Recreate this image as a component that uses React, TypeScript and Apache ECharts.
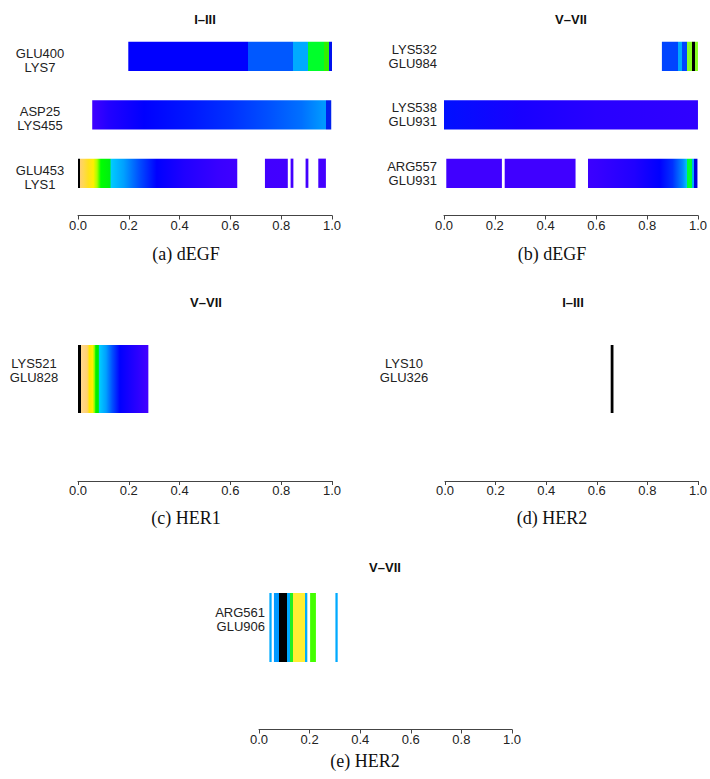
import React, { useEffect, useRef } from "react";
import * as echarts from "echarts";

// ---------- shared axis ticks ----------
const TICK_LABELS = ["0.0", "0.2", "0.4", "0.6", "0.8", "1.0"];

// ---------- (a) dEGF, I–III ----------
const titleA = "I–III";
const captionA = "(a) dEGF";
const labelsA = ["GLU400\nLYS7", "ASP25\nLYS455", "GLU453\nLYS1"];
const segmentsA = [
  [[0.198, 1.0]],
  [[0.056, 0.997]],
  [[0.0, 0.627], [0.736, 0.826], [0.837, 0.848], [0.896, 0.907], [0.946, 0.976]],
];
const colorsA = [
  [[0.198, "#0000FF"], [0.668, "#0000FF"], [0.668, "#0058FF"], [0.848, "#0058FF"], [0.848, "#00AAFF"], [0.907, "#00AAFF"], [0.907, "#00FF2A"], [0.969, "#00FF2A"], [0.969, "#33F000"], [0.99, "#33F000"], [0.99, "#0011EE"], [1.0, "#0011EE"]],
  [[0.056, "#4000FF"], [0.12, "#2200FF"], [0.26, "#0000FF"], [0.45, "#0018FF"], [0.6, "#0030FF"], [0.75, "#0050FF"], [0.88, "#0070FF"], [0.965, "#0099FF"], [0.975, "#0099FF"], [0.975, "#0022EE"], [0.997, "#0022EE"]],
  [[0.0, "#000000"], [0.008, "#000000"], [0.008, "#FFD070"], [0.022, "#FFD850"], [0.04, "#FFE020"], [0.06, "#FFF000"], [0.075, "#AAFF00"], [0.09, "#00FF00"], [0.126, "#00EE10"], [0.13, "#00CCFF"], [0.18, "#00A0FF"], [0.24, "#0050FF"], [0.31, "#0000FF"], [0.42, "#2000FF"], [0.55, "#3800FF"], [0.63, "#4000FF"], [1.0, "#4400FF"]],
];

// ---------- (b) dEGF, V–VII ----------
const titleB = "V–VII";
const captionB = "(b) dEGF";
const labelsB = ["LYS532\nGLU984", "LYS538\nGLU931", "ARG557\nGLU931"];
const segmentsB = [
  [[0.858, 1.0]],
  [[0.0, 1.0]],
  [[0.009, 0.228], [0.239, 0.518], [0.567, 0.998]],
];
const colorsB = [
  [[0.858, "#0044FF"], [0.921, "#0044FF"], [0.921, "#00AAFF"], [0.937, "#00AAFF"], [0.937, "#0044FF"], [0.958, "#0044FF"], [0.958, "#88FF22"], [0.976, "#88FF22"], [0.976, "#000000"], [0.988, "#000000"], [0.988, "#88FF22"], [1.0, "#88FF22"]],
  [[0.0, "#0010FF"], [0.3, "#1800FF"], [0.6, "#2800FF"], [1.0, "#3000FF"]],
  [[0.0, "#4000FF"], [0.52, "#4000FF"], [0.6, "#3800FF"], [0.75, "#2000FF"], [0.85, "#0000FF"], [0.9, "#0030FF"], [0.94, "#0088FF"], [0.955, "#00BBFF"], [0.958, "#00FF33"], [0.978, "#00FF33"], [0.978, "#00AAFF"], [0.985, "#00AAFF"], [0.985, "#0000DD"], [1.0, "#0000DD"]],
];

// ---------- (c) HER1, V–VII ----------
const titleC = "V–VII";
const captionC = "(c) HER1";
const labelsC = ["LYS521\nGLU828"];
const segmentsC = [[[0.0, 0.277]]];
const colorsC = [
  [[0.0, "#000000"], [0.01, "#000000"], [0.01, "#FFD890"], [0.036, "#FFD070"], [0.045, "#FFE600"], [0.058, "#FFF000"], [0.065, "#88FF00"], [0.07, "#00EE00"], [0.08, "#00EE00"], [0.085, "#00CCFF"], [0.11, "#00A0FF"], [0.135, "#0050FF"], [0.165, "#0000FF"], [0.22, "#2200FF"], [0.277, "#4400FF"]],
];

// ---------- (d) HER2, I–III ----------
const titleD = "I–III";
const captionD = "(d) HER2";
const labelsD = ["LYS10\nGLU326"];
const segmentsD = [[[0.655, 0.666]]];
const colorsD = [[[0.0, "#000000"], [1.0, "#000000"]]];

// ---------- (e) HER2, V–VII ----------
const titleE = "V–VII";
const captionE = "(e) HER2";
const labelsE = ["ARG561\nGLU906"];
const segmentsE = [[[0.041, 0.05], [0.059, 0.191], [0.202, 0.225], [0.302, 0.311]]];
const colorsE = [
  [[0.0, "#00AAFF"], [0.05, "#00AAFF"], [0.059, "#0099FF"], [0.08, "#0099FF"], [0.08, "#000000"], [0.112, "#000000"], [0.112, "#00AAFF"], [0.123, "#00AAFF"], [0.123, "#22EE22"], [0.133, "#22EE22"], [0.133, "#FFEE33"], [0.182, "#FFEE33"], [0.182, "#00AAFF"], [0.191, "#00AAFF"], [0.195, "#44FF00"], [0.225, "#44FF00"], [0.26, "#00AAFF"], [1.0, "#00AAFF"]],
];

const SANS = "'Liberation Sans', Arial, Helvetica, sans-serif";
const SERIF = "'Liberation Serif', 'Times New Roman', serif";

type Layout = {
  left: number; width: number; top: number; height: number; offset: number;
  labelAlign: "left" | "center" | "right"; labelMargin: number; labelShift: number;
  titleX: number; titleY: number; capX: number; capY: number;
};

const panels = [
  { title: titleA, caption: captionA, labels: labelsA, segments: segmentsA, colors: colorsA,
    layout: { left: 78, width: 254, top: 27, height: 175.5, offset: 13, labelAlign: "center", labelMargin: 38, labelShift: 4, titleX: 205, titleY: 19, capX: 186, capY: 254 } as Layout },
  { title: titleB, caption: captionB, labels: labelsB, segments: segmentsB, colors: colorsB,
    layout: { left: 444, width: 254, top: 27, height: 175.5, offset: 13, labelAlign: "right", labelMargin: 7, labelShift: 0, titleX: 571, titleY: 19, capX: 552, capY: 254 } as Layout },
  { title: titleC, caption: captionC, labels: labelsC, segments: segmentsC, colors: colorsC,
    layout: { left: 78, width: 254, top: 311, height: 136, offset: 34, labelAlign: "center", labelMargin: 44, labelShift: -9, titleX: 206, titleY: 302, capX: 186, capY: 518 } as Layout },
  { title: titleD, caption: captionD, labels: labelsD, segments: segmentsD, colors: colorsD,
    layout: { left: 445, width: 254, top: 311, height: 136, offset: 34, labelAlign: "center", labelMargin: 41, labelShift: -9, titleX: 573, titleY: 302, capX: 552, capY: 518 } as Layout },
  { title: titleE, caption: captionE, labels: labelsE, segments: segmentsE, colors: colorsE,
    layout: { left: 259, width: 253, top: 558.5, height: 138, offset: 33, labelAlign: "right", labelMargin: -6, labelShift: -8.5, titleX: 385, titleY: 567, capX: 365, capY: 761 } as Layout },
];

const BAR_FRAC = 0.5;

function makeRender(colorRows: any[]) {
  return (params: any, api: any) => {
    const s = api.value(0);
    const e = api.value(1);
    const r = api.value(2);
    const p0 = api.coord([s, r]);
    const p1 = api.coord([e, r]);
    const band = api.size([0, 1])[1];
    const h = band * BAR_FRAC;
    const g0 = api.coord([0, r])[0];
    const g1 = api.coord([1, r])[0];
    const stops = colorRows[r].map((st: any) => ({ offset: st[0], color: st[1] }));
    return {
      type: "rect",
      shape: { x: p0[0], y: p0[1] - h / 2, width: Math.max(p1[0] - p0[0], 1), height: h },
      style: { fill: new echarts.graphic.LinearGradient(g0, 0, g1, 0, stops, true) },
    };
  };
}

export default function App() {
  const ref = useRef<HTMLDivElement>(null);
  useEffect(() => {
    if (!ref.current) return;
    const chart = echarts.init(ref.current, undefined, { renderer: "svg" });
    const grid: any[] = [];
    const xAxis: any[] = [];
    const yAxis: any[] = [];
    const series: any[] = [];
    const graphic: any[] = [];
    panels.forEach((p, i) => {
      const L = p.layout;
      grid.push({ left: L.left, width: L.width, top: L.top, height: L.height, containLabel: false });
      xAxis.push({
        gridIndex: i, type: "value", min: 0, max: 1, interval: 0.2, position: "bottom", offset: L.offset,
        axisLine: { show: true, lineStyle: { color: "#444", width: 1 } },
        axisTick: { show: true, length: 4, lineStyle: { color: "#444", width: 1 } },
        splitLine: { show: false },
        axisLabel: {
          margin: 3, fontSize: 13, color: "#222", fontFamily: SANS,
          formatter: (v: number) => TICK_LABELS[Math.round(v / 0.2)] ?? "",
        },
      });
      // a spacer line above (shift down) or below (shift up) the two label lines
      const shift = L.labelShift;
      const spacer = Math.abs(shift) * 2;
      yAxis.push({
        gridIndex: i, type: "category", data: p.labels, inverse: true,
        axisLine: { show: false }, axisTick: { show: false }, splitLine: { show: false },
        axisLabel: {
          align: L.labelAlign, margin: L.labelMargin,
          formatter: (v: string) => {
            const body = v.split("\n").map((t) => `{a|${t}}`).join("\n");
            if (spacer < 0.5) return body;
            return shift > 0 ? `{s| }\n${body}` : `${body}\n{s| }`;
          },
          rich: {
            a: { fontSize: 13, lineHeight: 14, color: "#222", fontFamily: SANS, align: L.labelAlign },
            s: { fontSize: 1, lineHeight: spacer > 0 ? spacer : 1 },
          },
        },
      });
      const data: any[] = [];
      p.segments.forEach((row, r) => row.forEach((seg) => data.push([seg[0], seg[1], r])));
      series.push({
        type: "custom", xAxisIndex: i, yAxisIndex: i, data,
        encode: { x: [0, 1], y: 2 },
        renderItem: makeRender(p.colors),
        clip: false,
      });
      graphic.push({
        type: "text", x: L.titleX, y: L.titleY,
        style: { text: p.title, fill: "#111", font: `bold 13px ${SANS}`, align: "center", verticalAlign: "middle" },
      });
      graphic.push({
        type: "text", x: L.capX, y: L.capY,
        style: { text: p.caption, fill: "#111", font: `18px ${SERIF}`, align: "center", verticalAlign: "middle" },
      });
    });
    chart.setOption({ animation: false, grid, xAxis, yAxis, series, graphic });
    return () => chart.dispose();
  }, []);
  return (
    <div
      ref={ref}
      style={{ position: "fixed", left: 0, top: 0, width: 710, height: 779, background: "#fff" }}
    />
  );
}
